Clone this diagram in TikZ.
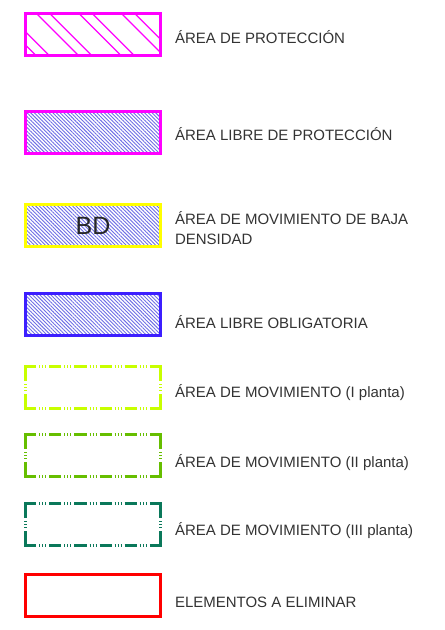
\documentclass[tikz,border=0pt]{standalone}
\usepackage{fontspec}
\setmainfont{Liberation Sans}
\usetikzlibrary{patterns.meta}
\definecolor{mag}{RGB}{255,0,255}
\definecolor{hatchblue}{RGB}{110,110,230}
\definecolor{yel}{RGB}{255,255,0}
\definecolor{bordblue}{RGB}{60,30,255}
\definecolor{lime}{RGB}{200,255,0}
\definecolor{grn}{RGB}{102,190,0}
\definecolor{teal}{RGB}{10,120,90}
\definecolor{rd}{RGB}{255,0,0}
\tikzset{
  box/.style={inner sep=0pt, outer sep=0pt, minimum width=135pt, minimum height=42pt, line width=3pt},
  dense/.style={pattern={Lines[angle=-45,distance=2.6pt,line width=0.9pt]}, pattern color=hatchblue},
  lbl/.style={anchor=base west, inner sep=0pt, outer sep=0pt, font=\fontsize{15}{20}\selectfont, text=black!80, align=left},
  hdash/.style={line width=3pt, dash pattern=on 12.17pt off 3pt on 1pt off 2pt on 1pt off 2pt on 1pt off 3pt},
  vdash/.style={line width=3pt, dash pattern=on 16pt off 3pt on 1pt off 2pt on 1pt off 2pt on 1pt off 3pt on 16pt off 30pt},
}
\begin{document}
\begin{tikzpicture}[x=1pt,y=-1pt]
\useasboundingbox[fill=white] (0,0) rectangle (445,630);
% box 1: area de proteccion (coordinates of the hatch relative to the node centre)
\node[box, draw=mag, path picture={
  \foreach \c in {-19.5,-6.2,23,36.3,65.5,78.8,108,121.3,150.5}
    \draw[mag, line width=1.3pt] (\c-58.5-40,-40) -- ++(80,80);
}] (b1) at (93,34.5) {};
% box 2
\node[box, dense, draw=mag, line width=2.6pt] (b2) at (93,132.5) {};
% box 3
\node[box, dense, draw=yel, font=\fontsize{25}{25}\selectfont, text=black!85] (b3) at (93,225.5) {BD};
% box 4
\node[box, dense, draw=bordblue, line width=2.6pt] (b4) at (93,314.5) {};
% dashed boxes
\node[box] (b5) at (93,387.5) {};
\node[box] (b6) at (93,455.5) {};
\node[box] (b7) at (93,524.5) {};
\foreach \b/\col in {b5/lime, b6/grn, b7/teal}{
  \draw[hdash, \col] ([xshift=-1.5pt]\b.north west) -- ([xshift=1.5pt]\b.north east);
  \draw[hdash, \col] ([xshift=-1.5pt]\b.south west) -- ([xshift=1.5pt]\b.south east);
  \draw[vdash, \col] ([yshift=1.5pt]\b.north west) -- ([yshift=-1.5pt]\b.south west);
  \draw[vdash, \col] ([yshift=1.5pt]\b.north east) -- ([yshift=-1.5pt]\b.south east);
}
% box 8
\node[box, draw=rd] (b8) at (93,595.5) {};
% labels
\node[lbl] (l1) at (175,43) {ÁREA DE PROTECCIÓN};
\node[lbl] (l2) at (175,140) {ÁREA LIBRE DE PROTECCIÓN};
\node[lbl] (l3) at (175,244) {ÁREA DE MOVIMIENTO DE BAJA\\DENSIDAD};
\node[lbl] (l4) at (175,328) {ÁREA LIBRE OBLIGATORIA};
\node[lbl] (l5) at (175,397) {ÁREA DE MOVIMIENTO (I planta)};
\node[lbl] (l6) at (175,467) {ÁREA DE MOVIMIENTO (II planta)};
\node[lbl] (l7) at (175,535) {ÁREA DE MOVIMIENTO (III planta)};
\node[lbl] (l8) at (175,607) {ELEMENTOS A ELIMINAR};
\end{tikzpicture}
\end{document}
